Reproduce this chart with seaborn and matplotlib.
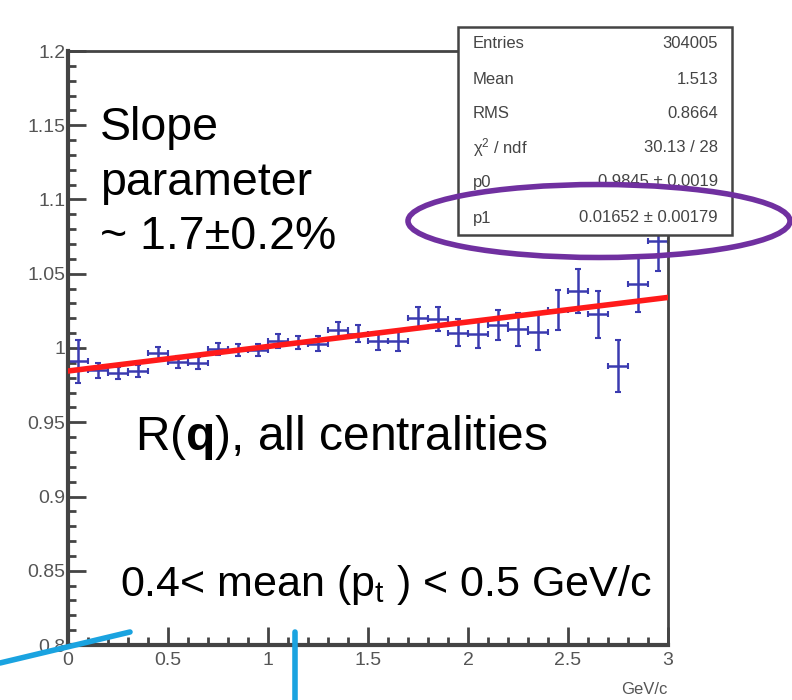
import numpy as np
import pandas as pd
import matplotlib
matplotlib.use("Agg")
import matplotlib.pyplot as plt
import seaborn as sns
from matplotlib.patches import Ellipse, Rectangle
from matplotlib.lines import Line2D
from matplotlib.ticker import MultipleLocator, FixedFormatter, FixedLocator

# bin centres (GeV/c), ratio values and their errors
bin_centers = [0.05, 0.15, 0.25, 0.35, 0.45, 0.55, 0.65, 0.75, 0.85, 0.95,
               1.05, 1.15, 1.25, 1.35, 1.45, 1.55, 1.65, 1.75, 1.85, 1.95,
               2.05, 2.15, 2.25, 2.35, 2.45, 2.55, 2.65, 2.75, 2.85, 2.95]
ratio = [0.9912, 0.9850, 0.9834, 0.9845, 0.9968, 0.9906, 0.9901, 0.9991, 0.9984, 0.9984,
         1.0047, 1.0036, 1.0030, 1.0119, 1.0097, 1.0047, 1.0047, 1.0200, 1.0193, 1.0103,
         1.0092, 1.0153, 1.0126, 1.0108, 1.0253, 1.0384, 1.0227, 0.9879, 1.0429, 1.0720]
ratio_err = [0.0145, 0.005, 0.004, 0.004, 0.004, 0.004, 0.004, 0.004, 0.004, 0.004,
             0.0045, 0.0045, 0.005, 0.0055, 0.0055, 0.006, 0.0065, 0.0075, 0.008, 0.009,
             0.0095, 0.010, 0.011, 0.012, 0.0135, 0.015, 0.016, 0.0175, 0.0185, 0.020]
bin_half_width = 0.05

# fit parameters (pol1)
p0 = 0.9845
p1 = 0.01652
fit_range = [0.0, 3.0]

stats_labels = ["Entries", "Mean", "RMS", "\u03c7$^\\mathregular{2}$ / ndf", "p0", "p1"]
stats_values = ["304005", "1.513", "0.8664", "30.13 / 28", "0.9845 \u00b1 0.0019", "0.01652 \u00b1 0.00179"]

yticks = [0.8, 0.85, 0.9, 0.95, 1.0, 1.05, 1.1, 1.15, 1.2]
ytick_labels = ["0.8", "0.85", "0.9", "0.95", "1", "1.05", "1.1", "1.15", "1.2"]
xticks = [0, 0.5, 1, 1.5, 2, 2.5, 3]
xtick_labels = ["0", "0.5", "1", "1.5", "2", "2.5", "3"]

sns.set_style("white")
plt.rcParams['font.family'] = ['Liberation Sans', 'DejaVu Sans']
plt.rcParams['mathtext.fontset'] = 'custom'
plt.rcParams['mathtext.rm'] = 'Liberation Sans'
plt.rcParams['mathtext.bf'] = 'Liberation Sans:bold'
plt.rcParams['mathtext.it'] = 'Liberation Sans:italic'

W, H = 792, 700
fig = plt.figure(figsize=(W / 100, H / 100), dpi=100)
ax = fig.add_axes([68 / W, 55 / H, 600 / W, 594 / H])

df = pd.DataFrame({"x": bin_centers, "y": ratio, "err": ratio_err})
fit_df = pd.DataFrame({"x": fit_range})
fit_df["y"] = p0 + p1 * fit_df["x"]

ax.errorbar(df["x"], df["y"], xerr=bin_half_width, yerr=df["err"], fmt="none",
            ecolor="#3b3bb0", elinewidth=1.8, capsize=2.5, capthick=1.5, zorder=2)
sns.lineplot(data=fit_df, x="x", y="y", ax=ax, color="#ff1a1a", linewidth=4, zorder=3)

ax.set_xlim(0, 3)
ax.set_ylim(0.8, 1.2)
ax.xaxis.set_major_locator(FixedLocator(xticks))
ax.xaxis.set_major_formatter(FixedFormatter(xtick_labels))
ax.yaxis.set_major_locator(FixedLocator(yticks))
ax.yaxis.set_major_formatter(FixedFormatter(ytick_labels))
ax.xaxis.set_minor_locator(MultipleLocator(0.1))
ax.yaxis.set_minor_locator(MultipleLocator(0.01))
ax.tick_params(which="both", direction="in", colors="#444444", labelcolor="#555555",
               labelsize=14, width=2, top=False, right=False, left=True, bottom=True)
ax.tick_params(which="major", length=13)
ax.tick_params(which="minor", length=6)
ax.tick_params(axis="x", pad=5)
ax.tick_params(axis="y", pad=2)
for s in ax.spines.values():
    s.set_color("#444444")
    s.set_linewidth(2)
ax.spines["left"].set_linewidth(3)
ax.spines["bottom"].set_linewidth(3)
ax.set_xlabel("")
ax.set_ylabel("")
fig.text(668 / W, 1 - 690 / H, "GeV/c", ha="right", va="center", fontsize=12, color="#555555")

# annotations
txt = dict(fontsize=33.5, va="center", ha="left", color="black")
fig.text(100 / W, 1 - 128 / H, "Slope", **txt)
fig.text(100 / W, 1 - 183 / H, "parameter", **txt)
fig.text(100 / W, 1 - 237 / H, "~ 1.7\u00b10.2%", **txt)
fig.text(135 / W, 1 - 437 / H, "R($\\mathbf{q}$), all centralities", fontsize=34.5,
         va="center", ha="left", color="black")
fig.text(120 / W, 1 - 585 / H, "0.4< mean (p$_\\mathregular{t}$ ) < 0.5 GeV/c", fontsize=31,
         va="center", ha="left", color="black",
         family=["Liberation Sans Narrow", "Liberation Sans", "DejaVu Sans"])

# stats box
bx0, by0, bx1, by1 = 458, 27, 732, 235
fig.patches.append(Rectangle((bx0 / W, 1 - by1 / H), (bx1 - bx0) / W, (by1 - by0) / H,
                             transform=fig.transFigure, facecolor="white",
                             edgecolor="#444444", linewidth=1.8, zorder=5))
row_y = [44, 80, 113, 148, 182, 218]
for lab, val, ry in zip(stats_labels, stats_values, row_y):
    fig.text(473 / W, 1 - ry / H, lab, fontsize=12, color="#444444", va="center", ha="left", zorder=6)
    fig.text(718 / W, 1 - ry / H, val, fontsize=12, color="#444444", va="center", ha="right", zorder=6)

fig.patches.append(Ellipse((599 / W, 1 - 221 / H), 382 / W, 73 / H, transform=fig.transFigure,
                           facecolor="none", edgecolor="#7030a0", linewidth=4, zorder=7))

# blue pointer lines
fig.add_artist(Line2D([0, 130 / W], [1 - 663 / H, 1 - 632 / H], transform=fig.transFigure,
                      color="#1aa3e0", linewidth=4, zorder=8))
fig.add_artist(Line2D([295 / W, 295 / W], [1 - 632 / H, 0], transform=fig.transFigure,
                      color="#1aa3e0", linewidth=4, zorder=8))

fig.savefig("out.png", dpi=100)
